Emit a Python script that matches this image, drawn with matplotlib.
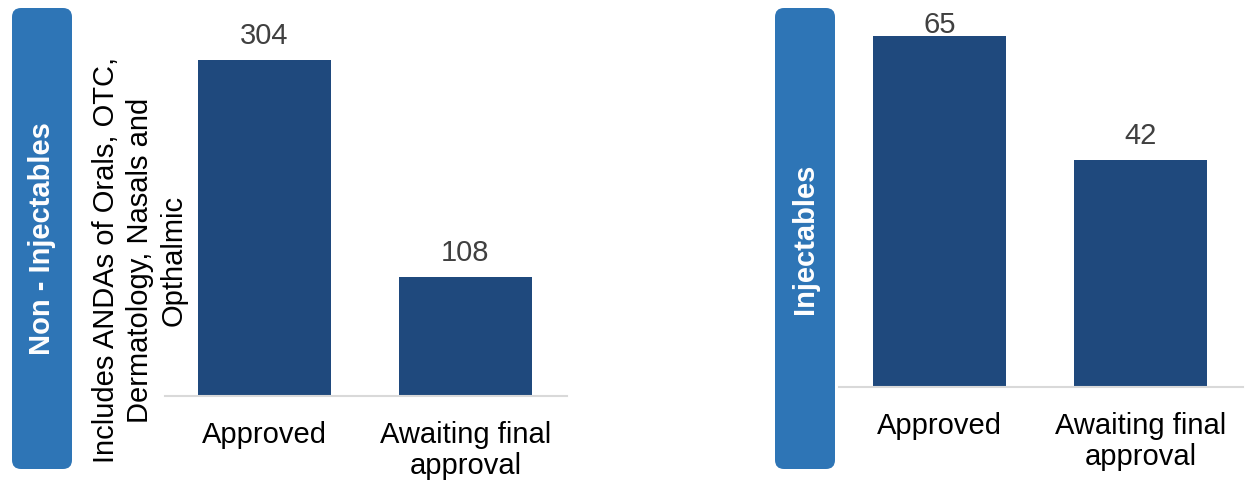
import matplotlib
matplotlib.use("Agg")
import matplotlib.pyplot as plt
from matplotlib.patches import FancyBboxPatch
from matplotlib.transforms import ScaledTranslation

plt.rcParams['font.family'] = ['Liberation Sans', 'DejaVu Sans']

categories = ["Approved", "Awaiting final\napproval"]
non_inj_values = [304, 108]
inj_values = [65, 42]
panel_titles = ["Non - Injectables", "Injectables"]
note_text = "Includes ANDAs of Orals, OTC,\nDermatology, Nasals and\nOpthalmic"

W, H = 1255, 483
BAR_COLOR = "#1f497d"
BOX_COLOR = "#2e75b6"
AXIS_COLOR = "#d9d9d9"
LABEL_COLOR = "#404040"
FS = 21

fig = plt.figure(figsize=(W / 100, H / 100), dpi=100)


def px_axes(x0, x1, y_base, y_top):
    return fig.add_axes([x0 / W, (H - y_base) / H, (x1 - x0) / W, (y_base - y_top) / H])


def draw_panel(ax, values, xlim, max_label_top_px):
    x = list(range(len(values)))
    ax.bar(x, values, width=0.662, color=BAR_COLOR, zorder=2)
    ax.set_xlim(*xlim)
    ax.set_ylim(0, max(values))
    ax.set_yticks([])
    ax.set_xticks(x)
    ax.set_xticklabels(categories, fontsize=FS, color="black", linespacing=1.12)
    ax.tick_params(axis="x", length=0, pad=18)
    for s in ("top", "right", "left"):
        ax.spines[s].set_visible(False)
    ax.spines["bottom"].set_color(AXIS_COLOR)
    ax.spines["bottom"].set_linewidth(1.5)
    fig.canvas.draw()
    for xi, v in zip(x, values):
        top_px = H - ax.transData.transform((xi, v))[1]
        gap = min(16, top_px - max_label_top_px)
        off = ScaledTranslation(0, gap / 100, fig.dpi_scale_trans)
        ax.text(xi, v, f"{v}", ha="center", va="baseline", fontsize=FS,
                color=LABEL_COLOR, transform=ax.transData + off, clip_on=False)


def side_box(x0, title):
    box = FancyBboxPatch((x0 / 100, (H - 469) / 100), 0.60, 4.61,
                         boxstyle="round,pad=0,rounding_size=0.09",
                         transform=fig.dpi_scale_trans, facecolor=BOX_COLOR,
                         edgecolor="none")
    fig.patches.append(box)
    fig.text((x0 + 30) / W, (H - 238.5) / H, title, rotation=90, ha="center",
             va="center", fontsize=FS, fontweight="bold", color="white")


ax1 = px_axes(165, 567, 396, 60)
draw_panel(ax1, non_inj_values, (-0.495, 1.505), 0)
ax2 = px_axes(839, 1243, 387, 36)
draw_panel(ax2, inj_values, (-0.5, 1.51), 33)

side_box(12, panel_titles[0])
side_box(775, panel_titles[1])

fig.text(140 / W, (H - 260) / H, note_text, rotation=90, ha="center", va="center",
         multialignment="center", fontsize=FS, color="black", linespacing=1.27)

fig.savefig("out.png", dpi=100)
